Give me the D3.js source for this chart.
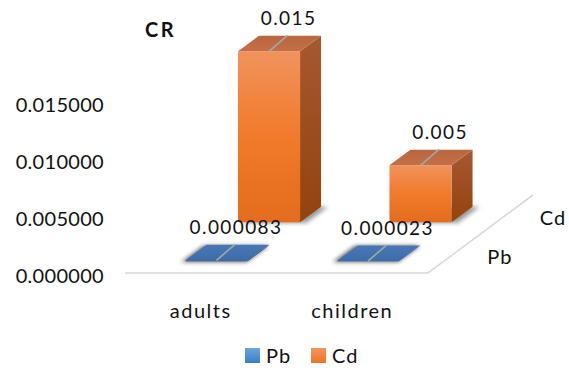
<!DOCTYPE html>
<html>
<head>
<meta charset="utf-8">
<script src="https://cdn.jsdelivr.net/npm/d3@7"></script>
<style>
  html, body { margin: 0; padding: 0; background: #fff; }
  svg { display: block; }
  text { font-family: Lato, "Noto Sans", sans-serif; fill: #111; }
</style>
</head>
<body>
<svg id="chart" width="569" height="368"></svg>
<script>
// Cancer risk (CR) by age group and metal
const categories = ["adults", "children"];
const series = ["Pb", "Cd"];
const pbValues = [0.000083, 0.000023];
const cdValues = [0.015, 0.005];
const pbLabels = ["0.000083", "0.000023"];
const cdLabels = ["0.015", "0.005"];
const tickValues = [0, 0.005, 0.010, 0.015];
const tickLabels = ["0.000000", "0.005000", "0.010000", "0.015000"];

const svg = d3.select("#chart");

// floor geometry: front-left corner and the depth vector of the 3D floor
const origin = { x: 125, y: 273 };
const depthVec = { x: 105, y: -78 };
const floorWidth = 303;

const x = d3.scaleBand().domain(categories).range([0, floorWidth])
  .paddingInner(0.59).paddingOuter(0.295);
const z = d3.scaleBand().domain(series).range([0, 1])
  .paddingInner(0.6).paddingOuter(0.3);
const y = d3.scaleLinear().domain([0, 0.015]).range([0, 171]);

// project (horizontal px, value px, depth fraction) to screen
function proj(px, vpx, d) {
  return [origin.x + px + d * depthVec.x, origin.y - vpx + d * depthVec.y];
}
const poly = pts => "M" + pts.map(p => p.join(",")).join("L") + "Z";

const defs = svg.append("defs");
function vgrad(id, stops) {
  const g = defs.append("linearGradient").attr("id", id)
    .attr("x1", 0).attr("y1", 0).attr("x2", 0).attr("y2", 1);
  stops.forEach(s => g.append("stop").attr("offset", s[0]).attr("stop-color", s[1]));
}
vgrad("cdFront", [[0, "#F1935C"], [0.5, "#F17A2B"], [1, "#E46C1C"]]);
vgrad("cdSide", [[0, "#A65832"], [1, "#93430E"]]);
vgrad("cdTop", [[0, "#B9653D"], [1, "#C3704A"]]);
vgrad("pbTop", [[0, "#4A78B6"], [1, "#3C6CAA"]]);
vgrad("pbSide", [[0, "#2F5A8E"], [1, "#2A5283"]]);
vgrad("legPb", [[0, "#6AA6DF"], [1, "#3B7DC4"]]);
vgrad("legCd", [[0, "#F4965E"], [1, "#EE7424"]]);
defs.append("filter").attr("id", "soft").attr("x", "-20%").attr("y", "-50%")
  .attr("width", "140%").attr("height", "200%")
  .append("feGaussianBlur").attr("stdDeviation", 2.2);

// floor edges
const fl = proj(0, 0, 0), fr = proj(floorWidth, 0, 0), br = proj(floorWidth, 0, 1);
svg.append("path")
  .attr("d", `M${fl}L${fr}L${br}`)
  .attr("fill", "none").attr("stroke", "#D9D9D9").attr("stroke-width", 1.6);

// value axis labels
svg.append("g").selectAll("text").data(tickValues).join("text")
  .attr("x", 104).attr("y", d => origin.y - y(d) + 10)
  .attr("text-anchor", "end").attr("font-size", 20).attr("letter-spacing", 0.3)
  .text((d, i) => tickLabels[i]);

svg.append("text").attr("x", 145).attr("y", 37)
  .attr("font-size", 20).attr("font-weight", "bold").attr("letter-spacing", 2.5).text("CR");

// category labels
svg.append("g").selectAll("text").data(categories).join("text")
  .attr("x", d => origin.x + x(d) + x.bandwidth() / 2)
  .attr("y", 318).attr("text-anchor", "middle").attr("font-size", 20)
  .attr("letter-spacing", 1.5)
  .text(d => d);

// series labels along the depth axis
svg.append("g").selectAll("text").data(series).join("text")
  .attr("x", d => proj(floorWidth, 0, z(d) + z.bandwidth() / 2)[0] + 33)
  .attr("y", d => proj(floorWidth, 0, z(d) + z.bandwidth() / 2)[1] + 10)
  .attr("font-size", 20).attr("letter-spacing", 1).text(d => d);

// bars: back row first so nearer bars overlap it
const bars = [];
series.slice().reverse().forEach(s => {
  const vals = s === "Pb" ? pbValues : cdValues;
  const labs = s === "Pb" ? pbLabels : cdLabels;
  categories.forEach((c, i) => bars.push({ s, c, v: vals[i], label: labs[i] }));
});

const barG = svg.append("g");
bars.forEach(b => {
  const x0 = x(b.c), x1 = x0 + x.bandwidth();
  const d0 = z(b.s), d1 = d0 + z.bandwidth();
  const h = y(b.v);
  const g = barG.append("g");
  const isCd = b.s === "Cd";
  // soft shadow on the floor
  g.append("path")
    .attr("d", poly([proj(x0 + (isCd ? 4 : -3), 0, d0 - 0.01), proj(x1 + (isCd ? 7 : 0), 0, d0 - 0.01),
                     proj(x1 + (isCd ? 7 : 0), 0, d1), proj(x0 + (isCd ? 4 : -3), 0, d1)]))
    .attr("fill", "#444").attr("opacity", isCd ? 0.55 : 0.85).attr("filter", "url(#soft)");
  // right side face
  g.append("path")
    .attr("d", poly([proj(x1, 0, d0), proj(x1, 0, d1), proj(x1, h, d1), proj(x1, h, d0)]))
    .attr("fill", isCd ? "url(#cdSide)" : "url(#pbSide)");
  // front face
  g.append("path")
    .attr("d", poly([proj(x0, 0, d0), proj(x1, 0, d0), proj(x1, h, d0), proj(x0, h, d0)]))
    .attr("fill", isCd ? "url(#cdFront)" : "#2E5C94");
  // top face
  g.append("path")
    .attr("d", poly([proj(x0, h, d0), proj(x1, h, d0), proj(x1, h, d1), proj(x0, h, d1)]))
    .attr("fill", isCd ? "url(#cdTop)" : "url(#pbTop)");
  b.h = h; b.xm = (x0 + x1) / 2; b.d0 = d0; b.d1 = d1;
});

// data labels with leader lines
const labG = svg.append("g");
bars.forEach(b => {
  const p0 = proj(b.xm, b.h, b.d0);
  const p1 = proj(b.xm, b.h, b.d1 + 0.005);
  labG.append("line")
    .attr("x1", p0[0]).attr("y1", p0[1]).attr("x2", p1[0] - 3).attr("y2", p1[1])
    .attr("stroke", "#A6A6A6").attr("stroke-width", 1.6);
  labG.append("text")
    .attr("x", p1[0] - 2).attr("y", p1[1] - 10)
    .attr("text-anchor", "middle").attr("font-size", 19).attr("letter-spacing", 1.4)
    .text(b.label);
});

// legend
const legend = svg.append("g");
const legItems = [{ s: "Pb", x: 245, fill: "url(#legPb)" }, { s: "Cd", x: 311, fill: "url(#legCd)" }];
legItems.forEach(it => {
  legend.append("rect").attr("x", it.x).attr("y", 348).attr("width", 15).attr("height", 15)
    .attr("fill", it.fill);
  legend.append("text").attr("x", it.x + 21).attr("y", 363).attr("font-size", 20)
    .attr("letter-spacing", 1).text(it.s);
});
</script>
</body>
</html>
